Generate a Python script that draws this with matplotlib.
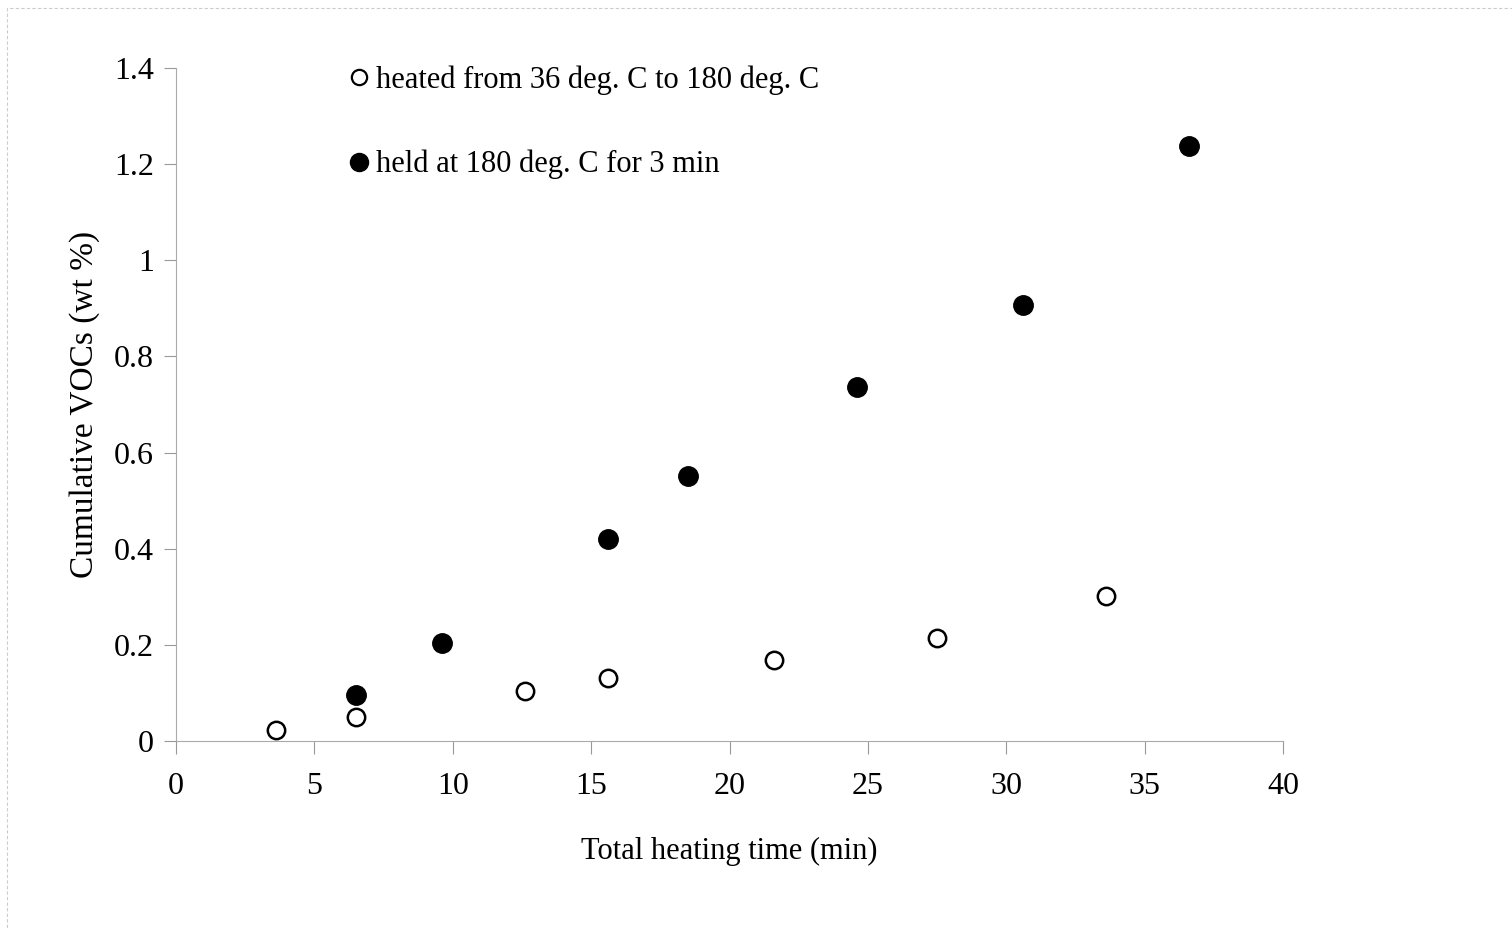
import matplotlib.pyplot as plt
from matplotlib.lines import Line2D
from matplotlib.patches import Rectangle

plt.rcParams['font.family'] = ['Liberation Serif', 'DejaVu Serif']

# heated from 36 to 180 deg C (open circles)
heat_x = [3.6, 6.5, 12.6, 15.6, 21.6, 27.5, 33.6]
heat_y = [0.023, 0.050, 0.104, 0.131, 0.169, 0.214, 0.302]

# held at 180 deg C for 3 min (filled circles)
held_x = [6.5, 9.6, 15.6, 18.5, 24.6, 30.6, 36.6]
held_y = [0.096, 0.204, 0.420, 0.551, 0.736, 0.907, 1.238]

xticks = [0, 5, 10, 15, 20, 25, 30, 35, 40]
yticks = [0, 0.2, 0.4, 0.6, 0.8, 1, 1.2, 1.4]
ytick_labels = ['0', '0.2', '0.4', '0.6', '0.8', '1', '1.2', '1.4']

fig = plt.figure(figsize=(15.12, 9.3), dpi=100)
ax = fig.add_axes([176 / 1512, 1 - 741 / 930, (1283 - 176) / 1512, (741 - 68) / 930])

ax.plot(heat_x, heat_y, 'o', ms=12.5, mfc='white', mec='black', mew=1.8, ls='none')
ax.plot(held_x, held_y, 'o', ms=14, mfc='black', mec='black', ls='none')

ax.set_xlim(0, 40)
ax.set_ylim(0, 1.4)
ax.set_xticks(xticks)
ax.set_yticks(yticks)
ax.set_yticklabels(ytick_labels)
ax.tick_params(labelsize=23, length=9, width=0.8, color='#999999', direction='out')
ax.tick_params(axis='x', pad=13)
ax.tick_params(axis='y', pad=7)

for s in ['top', 'right']:
    ax.spines[s].set_visible(False)
ax.spines['left'].set_color('#aaaaaa')
ax.spines['bottom'].set_color('#aaaaaa')
ax.spines['left'].set_linewidth(0.8)
ax.spines['bottom'].set_linewidth(0.8)
ax.spines['bottom'].set_linestyle((0, (2, 1)))

ax.set_xlabel('Total heating time (min)', fontsize=22, labelpad=26)
ax.set_ylabel('Cumulative VOCs (wt %)', fontsize=24, labelpad=10)

handles = [
    Line2D([], [], marker='o', ls='none', ms=11, mfc='white', mec='black', mew=1.6),
    Line2D([], [], marker='o', ls='none', ms=13, mfc='black', mec='black'),
]
ax.legend(handles, ['heated from 36 deg. C to 180 deg. C', 'held at 180 deg. C for 3 min'],
          loc='upper left', bbox_to_anchor=(0.128, 1.045), frameon=False, fontsize=22,
          labelspacing=1.8, handletextpad=0.1, handlelength=0.9)

fig.patches.append(Rectangle((7 / 1512, -0.01), 1.1, 1 - 8 / 930 + 0.01, transform=fig.transFigure,
                             fill=False, edgecolor='#cccccc', linewidth=0.8, linestyle=(0, (3, 2))))

fig.savefig('out.png', dpi=100)
